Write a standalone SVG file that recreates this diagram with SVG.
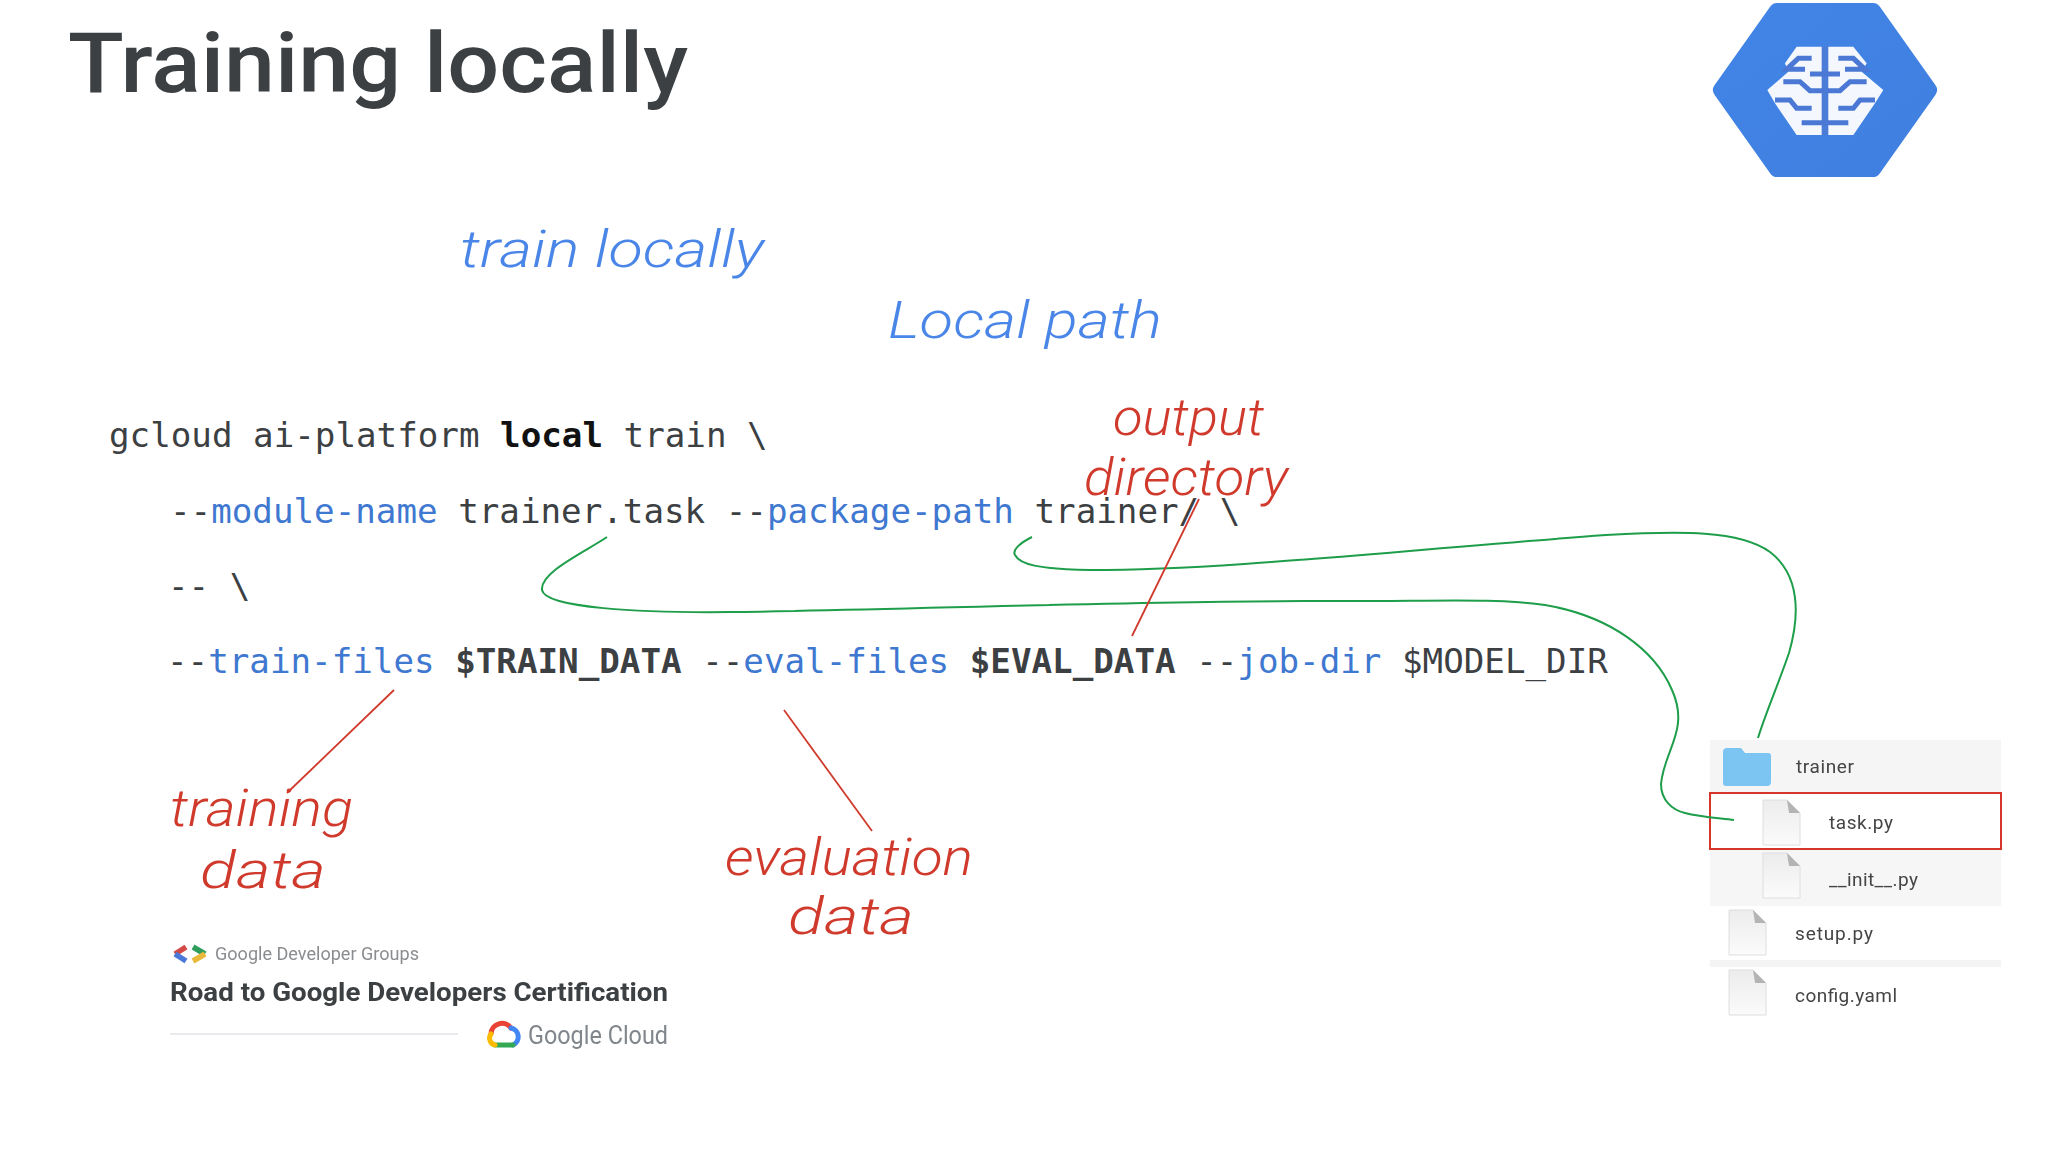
<svg xmlns="http://www.w3.org/2000/svg" width="2048" height="1152" viewBox="0 0 2048 1152">
<defs>
<filter id="soft" x="-5%" y="-5%" width="110%" height="110%"><feGaussianBlur stdDeviation="0.7"/></filter>
<linearGradient id="page" x1="0" y1="0" x2="0" y2="1"><stop offset="0" stop-color="#ececec"/><stop offset="1" stop-color="#fbfbfb"/></linearGradient>
<linearGradient id="hex" x1="0" y1="0" x2="1" y2="1"><stop offset="0" stop-color="#4285e6"/><stop offset="1" stop-color="#3f7fe0"/></linearGradient>
<g id="fileicon"><path d="M0 0H24L37 13V45H0Z" fill="url(#page)" stroke="#dedede" stroke-width="1"/><path d="M24 0L37 13H26Z" fill="#b4b4b4"/></g>
</defs>
<style>
.code{font-family:"DejaVu Sans Mono","Liberation Mono",monospace;font-size:34.2px;fill:#3c4043;white-space:pre}
.kw{fill:#3f78d0}
.b{font-weight:700}
.hw{font-family:"Roboto","Open Sans",sans-serif;font-style:italic;font-weight:300;font-size:52px}
.hb{fill:#4a86e8}
.hr{fill:#d03a2c}
.fn{font-family:"Roboto","Liberation Sans",sans-serif;font-size:19px;fill:#444}
.rg{fill:none;stroke:#1e9e4a;stroke-width:2}
.rl{fill:none;stroke:#d03a2c;stroke-width:1.8}
</style>
<rect width="2048" height="1152" fill="#fff"/>

<g id="title"><text x="68" y="92" font-family="Roboto,'Liberation Sans',sans-serif" font-weight="500" font-size="84" fill="#3c4043" textLength="620" lengthAdjust="spacingAndGlyphs">Training locally</text></g>

<g id="ai-logo">
<path d="M1777 11H1873L1929 90L1873 169H1777L1721 90Z" fill="url(#hex)" stroke="url(#hex)" stroke-width="16" stroke-linejoin="round"/>
<g transform="translate(1690 0) scale(.3333)">
<path d="M320 140H490L530 190L515 215L580 270L555 310L490 405H320L255 310L232 270L295 215L285 190Z" fill="#f4f8fe"/>
<path d="M405 138V406" stroke="#4a7cd8" stroke-width="20" fill="none"/>
<path d="M365 175H325L290 208H345M445 175H490L525 208H465M360 222H450M280 245H330L360 272H400M530 245H480L450 272H410M255 300H300L320 325H365M555 300H510L490 325H445M335 368H475" fill="none" stroke="#4a78d4" stroke-width="15"/>
</g>
</g>

<g id="handwriting">
<text class="hw hb" x="460" y="267" textLength="304" lengthAdjust="spacingAndGlyphs">train locally</text>
<text class="hw hb" x="888" y="338" textLength="274" lengthAdjust="spacingAndGlyphs">Local path</text>
<text class="hw hr" x="1113" y="435" textLength="151" lengthAdjust="spacingAndGlyphs">output</text>
<text class="hw hr" x="1084" y="495" textLength="204" lengthAdjust="spacingAndGlyphs">directory</text>
<text class="hw hr" x="170" y="826" textLength="183" lengthAdjust="spacingAndGlyphs">training</text>
<text class="hw hr" x="200" y="888" textLength="126" lengthAdjust="spacingAndGlyphs">data</text>
<text class="hw hr" x="725" y="875" textLength="248" lengthAdjust="spacingAndGlyphs">evaluation</text>
<text class="hw hr" x="788" y="934" textLength="126" lengthAdjust="spacingAndGlyphs">data</text>
</g>

<g id="code">
<text class="code" x="109" y="447" xml:space="preserve">gcloud ai-platform <tspan class="b" style="fill:#111">local</tspan> train \</text>
<text class="code" x="170" y="523" xml:space="preserve">--<tspan class="kw">module-name</tspan> trainer.task --<tspan class="kw">package-path</tspan> trainer/ \</text>
<text class="code" x="168" y="598" xml:space="preserve">-- \</text>
<text class="code" x="167" y="673" xml:space="preserve">--<tspan class="kw">train-files</tspan> <tspan class="b">$TRAIN_DATA</tspan> --<tspan class="kw">eval-files</tspan> <tspan class="b">$EVAL_DATA</tspan> --<tspan class="kw">job-dir</tspan> $MODEL_DIR</text>
</g>

<g id="file-panel">
<g filter="url(#soft)">
<rect x="1710" y="740" width="291" height="53" fill="#f5f5f5"/>
<rect x="1710" y="850" width="291" height="56" fill="#f6f6f6"/>
<rect x="1710" y="960" width="291" height="7" fill="#f4f4f4"/>
<path d="M1723 752q0-4 4-4h14l4 5h23q3 0 3 3v26q0 4-4 4h-41q-3 0-3-3Z" fill="#7cc4f2"/>
<use href="#fileicon" x="1763" y="800"/>
<use href="#fileicon" x="1763" y="853"/>
<use href="#fileicon" x="1729" y="910"/>
<use href="#fileicon" x="1729" y="970"/>
<text class="fn" x="1796" y="773" textLength="58">trainer</text>
<text class="fn" x="1829" y="829" textLength="64">task.py</text>
<text class="fn" x="1829" y="886" textLength="89">__init__.py</text>
<text class="fn" x="1795" y="940" textLength="78">setup.py</text>
<text class="fn" x="1795" y="1002" textLength="102">config.yaml</text>
</g>
<rect x="1710" y="793" width="291" height="56" fill="none" stroke="#d8352a" stroke-width="2"/>
</g>

<g id="footer">
<g filter="url(#soft)">
<path d="M186 947L175 954" fill="none" stroke="#d34a45" stroke-width="5.5"/>
<path d="M175 954L186 961" fill="none" stroke="#4a78d8" stroke-width="5.5"/>
<path d="M193 947L205 954" fill="none" stroke="#2f9e5b" stroke-width="5.5"/>
<path d="M205 954L193 961" fill="none" stroke="#e8b93a" stroke-width="5.5"/>
<text x="215" y="960" font-family="Roboto,'Liberation Sans',sans-serif" font-size="18" fill="#8a8d90" textLength="204" lengthAdjust="spacingAndGlyphs">Google Developer Groups</text>
<text x="170" y="1001" font-family="Roboto,'Liberation Sans',sans-serif" font-weight="700" font-size="25" fill="#3c4043" textLength="498" lengthAdjust="spacingAndGlyphs">Road to Google Developers Certification</text>
<rect x="170" y="1033" width="288" height="2" fill="#e8eaed"/>
<g fill="none" stroke-width="5" stroke-linecap="round" transform="translate(0 -7)">
<path d="M491 1041a11 11 0 0 1 20-6" stroke="#ea4335"/>
<path d="M511 1035a9 9 0 0 1 2 17" stroke="#4285f4"/>
<path d="M513 1052H495" stroke="#34a853"/>
<path d="M495 1052a7 7 0 0 1-4-11" stroke="#fbbc04"/>
</g>
<text x="528" y="1044" font-family="Roboto,'Liberation Sans',sans-serif" font-size="26" fill="#80868b" textLength="140" lengthAdjust="spacingAndGlyphs">Google Cloud</text>
</g>
</g>

<g id="connectors">
<path class="rg" d="M607 537C585 552 540 572 542 590C545 608 640 613 731 612C900 610 1150 600 1345 601C1440 601 1500 598 1545 605C1610 616 1655 650 1672 690C1690 730 1664 750 1661 784C1661 800 1672 810 1685 813C1700 817 1718 818 1734 820"/>
<path class="rg" d="M1032 537C1020 543 1012 550 1015 555C1020 565 1040 569 1090 570C1230 570 1400 550 1606 535C1680 531 1740 530 1770 552C1800 575 1800 615 1789 653C1778 685 1765 715 1758 738"/>
<path class="rl" d="M1199 499L1132 636"/>
<path class="rl" d="M394 690L287 793"/>
<path class="rl" d="M784 710L872 831"/>
</g>
</svg>
